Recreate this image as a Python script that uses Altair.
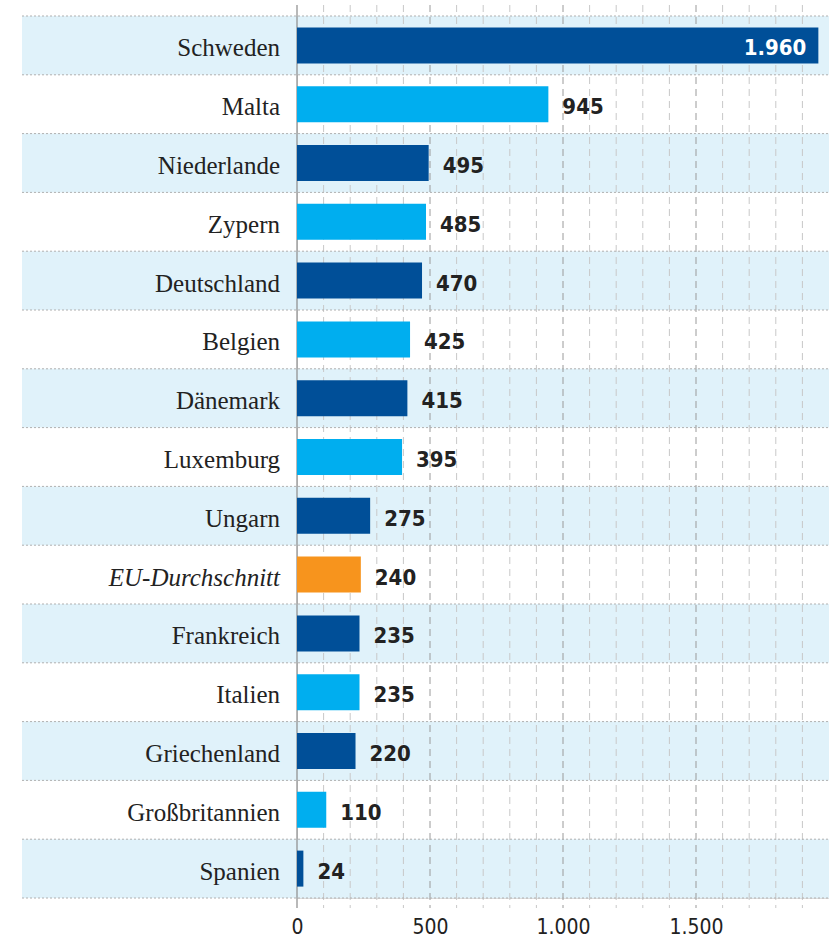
import altair as alt
import pandas as pd

countries = ["Schweden", "Malta", "Niederlande", "Zypern", "Deutschland", "Belgien",
             "Dänemark", "Luxemburg", "Ungarn", "EU-Durchschnitt", "Frankreich",
             "Italien", "Griechenland", "Großbritannien", "Spanien"]
values = [1960, 945, 495, 485, 470, 425, 415, 395, 275, 240, 235, 235, 220, 110, 24]
kinds = ["dunkel", "hell", "dunkel", "hell", "dunkel", "hell", "dunkel", "hell",
         "dunkel", "eu", "dunkel", "hell", "dunkel", "hell", "dunkel"]
grid_values = [100, 200, 300, 400, 500, 600, 700, 800, 900, 1000, 1100, 1200,
               1300, 1400, 1500, 1600, 1700, 1800, 1900]
tick_values = [0, 500, 1000, 1500]

df = pd.DataFrame({"land": countries, "wert": values, "art": kinds})
df["band"] = df["art"] == "dunkel"
grid_df = pd.DataFrame({"g": grid_values})
grid_df["major"] = grid_df["g"] % 500 == 0

SANS = "'DejaVu Sans Condensed', Roboto, sans-serif"

W, H = 532, 882
yenc = alt.Y("land:N", sort=countries, axis=None,
             scale=alt.Scale(paddingInner=0, paddingOuter=0))
xscale = alt.Scale(domain=[0, 2000], nice=False, zero=True)

base = alt.Chart(df)

bands = base.transform_filter("datum.band").mark_rect(color="#e0f2fa").encode(
    y=yenc, x=alt.value(-275), x2=alt.value(W))

hlines = base.mark_rule(color="#b0b0b0", strokeDash=[2, 2], strokeWidth=1).encode(
    y=alt.Y("land:N", sort=countries, axis=None, bandPosition=0,
            scale=alt.Scale(paddingInner=0, paddingOuter=0)),
    x=alt.value(-275), x2=alt.value(W))
bottom_line = alt.Chart(pd.DataFrame({"d": [0]})).mark_rule(
    color="#b0b0b0", strokeDash=[2, 2], strokeWidth=1).encode(
    y=alt.value(H), x=alt.value(-275), x2=alt.value(W))

grid = alt.Chart(grid_df).mark_rule(strokeDash=[7, 5], strokeWidth=1).encode(
    x=alt.X("g:Q", scale=xscale),
    y=alt.value(-11), y2=alt.value(H + 10),
    color=alt.condition("datum.major", alt.value("#9a9a9a"), alt.value("#c8c8c8")))

axis_line = alt.Chart(pd.DataFrame({"g": [0]})).mark_rule(color="#8a8a8a", strokeWidth=1.2).encode(
    x=alt.X("g:Q", scale=xscale), y=alt.value(-11), y2=alt.value(H + 10))

bars = base.mark_bar(height=36).encode(
    y=yenc,
    x=alt.X("wert:Q", scale=xscale,
            axis=alt.Axis(values=tick_values, grid=False, domain=False, ticks=False,
                          labelFlush=False,
                          labelExpr="replace(format(datum.value, ','), ',', '.')",
                          labelFont=SANS, labelFontSize=21,
                          labelColor="#222222", labelPadding=18, title=None)),
    color=alt.Color("art:N", scale=alt.Scale(domain=["dunkel", "hell", "eu"],
                                             range=["#004f98", "#00aeef", "#f7941d"]),
                    legend=None))

names = base.transform_filter("datum.art != 'eu'").mark_text(
    align="right", baseline="middle", dx=-17, dy=3, fontSize=25,
    font="Liberation Serif", color="#222222").encode(
    y=yenc, x=alt.value(0), text="land:N")
names_eu = base.transform_filter("datum.art == 'eu'").mark_text(
    align="right", baseline="middle", dx=-17, dy=3, fontSize=25, fontStyle="italic",
    font="Liberation Serif", color="#222222").encode(
    y=yenc, x=alt.value(0), text="land:N")

label_expr = "replace(format(datum.wert, ','), ',', '.')"
vals_out = base.transform_filter("datum.wert < 1500").transform_calculate(
    lab=label_expr).mark_text(align="left", baseline="middle", dx=14, dy=3, fontSize=22,
                              fontWeight="bold", font=SANS,
                              color="#222222").encode(
    y=yenc, x=alt.X("wert:Q", scale=xscale), text="lab:N")
vals_in = base.transform_filter("datum.wert >= 1500").transform_calculate(
    lab=label_expr).mark_text(align="right", baseline="middle", dx=-12, dy=3, fontSize=22,
                              fontWeight="bold", font=SANS,
                              color="white").encode(
    y=yenc, x=alt.X("wert:Q", scale=xscale), text="lab:N")

chart = alt.layer(bands, grid, hlines, bottom_line, axis_line, bars, names, names_eu,
                  vals_out, vals_in).properties(
    width=W, height=H,
    autosize=alt.AutoSizeParams(type="none"),
    padding={"left": 297, "top": 16, "right": 0, "bottom": 47},
).configure_view(stroke=None).configure(background="white")

chart.save("out.html", embed_options={"renderer": "svg", "actions": False})
